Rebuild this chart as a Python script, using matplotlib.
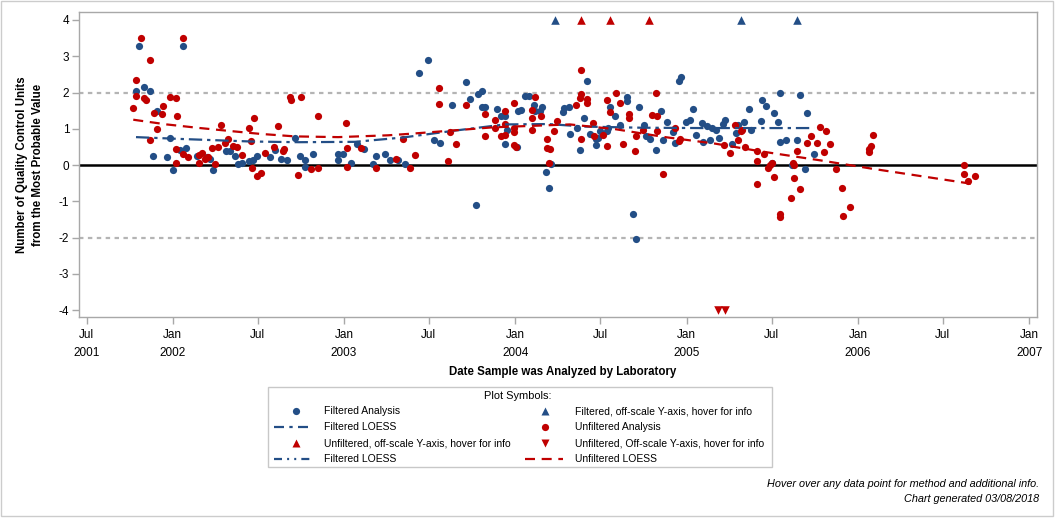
import numpy as np
import matplotlib
matplotlib.use("Agg")
import matplotlib.pyplot as plt
import matplotlib.dates as mdates
from matplotlib.patches import Rectangle
from matplotlib.lines import Line2D
from datetime import datetime

plt.rcParams['font.family'] = ['Liberation Sans', 'DejaVu Sans']

# ---------------- data (x in decimal years, y in QC units) ----------------
filt_x = [2001.787, 2001.804, 2001.833, 2001.868, 2001.886, 2001.909, 2001.968, 2001.985,
          2002.003, 2002.044, 2002.061, 2002.079, 2002.143, 2002.201, 2002.219, 2002.236,
          2002.312, 2002.336, 2002.365, 2002.382, 2002.406, 2002.447, 2002.470, 2002.493,
          2002.569, 2002.598, 2002.633, 2002.668, 2002.715, 2002.744, 2002.774, 2002.774,
          2002.820, 2002.966, 2002.966, 2002.995, 2003.042, 2003.077, 2003.118, 2003.171,
          2003.188, 2003.241, 2003.270, 2003.313, 2003.357, 2003.439, 2003.492, 2003.527,
          2003.562, 2003.632, 2003.714, 2003.737, 2003.772, 2003.784, 2003.807, 2003.807,
          2003.825, 2003.895, 2003.918, 2003.941, 2003.953, 2003.941, 2004.012, 2004.017,
          2004.035, 2004.058, 2004.082, 2004.111, 2004.117, 2004.146, 2004.158, 2004.181,
          2004.199, 2004.210, 2004.280, 2004.286, 2004.315, 2004.321, 2004.362, 2004.379,
          2004.403, 2004.420, 2004.438, 2004.473, 2004.473, 2004.485, 2004.496, 2004.537,
          2004.543, 2004.555, 2004.584, 2004.613, 2004.654, 2004.654, 2004.689, 2004.706,
          2004.724, 2004.753, 2004.765, 2004.788, 2004.823, 2004.847, 2004.864, 2004.882,
          2004.917, 2004.934, 2004.952, 2004.969, 2004.993, 2005.016, 2005.039, 2005.051,
          2005.086, 2005.092, 2005.121, 2005.133, 2005.150, 2005.168, 2005.191, 2005.209,
          2005.223, 2005.267, 2005.285, 2005.302, 2005.337, 2005.361, 2005.378, 2005.431,
          2005.437, 2005.460, 2005.495, 2005.512, 2005.530, 2005.547, 2005.547, 2005.582,
          2005.612, 2005.641, 2005.664, 2005.688, 2005.705, 2005.746]
filt_y = [2.03, 3.28, 2.14, 2.03, 0.24, 1.48, 0.21, 0.74,
          -0.15, 0.41, 3.28, 0.46, 0.24, 0.21, 0.18, -0.15,
          0.38, 0.38, 0.24, 0.02, 0.07, 0.10, 0.13, 0.24,
          0.21, 0.41, 0.18, 0.13, 0.74, 0.24, 0.13, -0.06,
          0.30, 0.30, 0.13, 0.30, 0.05, 0.57, 0.43, 0.02,
          0.24, 0.30, 0.13, 0.13, 0.02, 2.53, 2.89, 0.68,
          0.60, 1.65, 2.28, 1.81, -1.11, 1.95, 2.03, 1.59,
          1.59, 1.54, 1.34, 1.34, 0.98, 0.57, 0.49, 1.48,
          1.51, 1.90, 1.90, 1.65, 1.48, 1.48, 1.59, -0.20,
          -0.64, 0.02, 1.45, 1.57, 1.59, 0.85, 1.01, 0.41,
          1.29, 2.31, 0.85, 0.71, 0.54, 0.74, 0.93, 0.93,
          1.01, 1.59, 1.34, 1.10, 1.87, 1.76, -1.36, -2.05,
          1.59, 1.10, 0.79, 0.71, 0.41, 1.48, 0.68, 1.18,
          0.90, 0.60, 2.31, 2.42, 1.18, 1.23, 1.54, 0.82,
          1.15, 0.63, 1.07, 0.68, 1.01, 0.96, 0.74, 1.12,
          1.23, 0.57, 0.88, 1.10, 1.18, 1.54, 0.96, 1.21,
          1.79, 1.62, 0.07, 1.43, 1.18, 1.98, 0.63, 0.68,
          -0.01, 0.68, 1.92, -0.12, 1.43, 0.30]

unf_x = [2001.769, 2001.787, 2001.786, 2001.816, 2001.833, 2001.845, 2001.868, 2001.868,
         2001.892, 2001.909, 2001.938, 2001.944, 2001.985, 2002.020, 2002.026, 2002.020,
         2002.020, 2002.061, 2002.061, 2002.090, 2002.155, 2002.172, 2002.155, 2002.190,
         2002.207, 2002.229, 2002.248, 2002.265, 2002.283, 2002.306, 2002.324, 2002.353,
         2002.376, 2002.406, 2002.443, 2002.458, 2002.464, 2002.476, 2002.493, 2002.515,
         2002.540, 2002.593, 2002.616, 2002.651, 2002.645, 2002.686, 2002.692, 2002.733,
         2002.750, 2002.809, 2002.849, 2002.849, 2003.013, 2003.019, 2003.019, 2003.101,
         2003.188, 2003.305, 2003.346, 2003.387, 2003.416, 2003.556, 2003.556, 2003.609,
         2003.620, 2003.655, 2003.714, 2003.825, 2003.825, 2003.883, 2003.883, 2003.918,
         2003.941, 2003.941, 2003.941, 2003.994, 2003.994, 2003.994, 2003.994, 2004.006,
         2004.099, 2004.099, 2004.099, 2004.117, 2004.152, 2004.187, 2004.187, 2004.204,
         2004.199, 2004.228, 2004.245, 2004.356, 2004.379, 2004.385, 2004.385, 2004.385,
         2004.420, 2004.420, 2004.455, 2004.461, 2004.514, 2004.537, 2004.537, 2004.555,
         2004.590, 2004.613, 2004.631, 2004.666, 2004.666, 2004.701, 2004.706, 2004.742,
         2004.800, 2004.829, 2004.823, 2004.829, 2004.864, 2004.934, 2004.958, 2004.952,
         2005.220, 2005.255, 2005.279, 2005.314, 2005.320, 2005.302, 2005.343, 2005.413,
         2005.413, 2005.454, 2005.413, 2005.477, 2005.489, 2005.495, 2005.507, 2005.547,
         2005.547, 2005.606, 2005.629, 2005.623, 2005.629, 2005.641, 2005.664, 2005.705,
         2005.728, 2005.763, 2005.781, 2005.804, 2005.816, 2005.839, 2005.869, 2005.909,
         2005.915, 2005.956, 2006.067, 2006.067, 2006.079, 2006.085, 2006.622, 2006.622,
         2006.645, 2006.686]
unf_y = [1.57, 2.34, 1.90, 3.50, 1.84, 1.79, 2.89, 0.68,
         1.43, 0.99, 1.40, 1.62, 1.87, 1.84, 1.34, 0.43,
         0.05, 3.50, 0.30, 0.21, 0.27, 0.32, 0.05, 0.16,
         0.21, 0.46, 0.02, 0.49, 1.10, 0.60, 0.71, 0.52,
         0.49, 0.27, 1.01, 0.65, -0.09, 1.29, -0.31, -0.23,
         0.32, 0.49, 1.08, 0.43, 0.38, 1.87, 1.79, -0.28,
         1.87, -0.12, -0.09, 1.34, 1.15, 0.46, -0.06, 0.46,
         -0.09, 0.18, 0.71, -0.09, 0.27, 2.12, 1.68, 0.10,
         0.90, 0.57, 1.65, 1.40, 0.79, 1.23, 1.01, 0.79,
         0.82, 1.48, 1.12, 1.70, 1.01, 0.90, 0.54, 0.49,
         1.51, 1.29, 0.98, 1.87, 1.34, 0.71, 0.46, 0.43,
         0.07, 0.93, 1.21, 1.65, 1.84, 1.95, 2.61, 0.71,
         1.81, 1.70, 1.15, 0.79, 0.82, 1.79, 0.52, 1.45,
         2.00, 1.70, 0.57, 1.40, 1.29, 0.38, 0.79, 0.96,
         1.37, 1.34, 2.00, 0.93, -0.26, 1.01, 0.71, 0.65,
         0.54, 0.32, 1.10, 0.93, 0.98, 0.68, 0.49, 0.38,
         0.10, 0.30, -0.53, -0.09, -0.01, 0.05, -0.34, -1.36,
         -1.44, -0.92, -0.37, 0.05, -0.01, 0.38, -0.67, 0.60,
         0.79, 0.60, 1.04, 0.35, 0.93, 0.57, -0.12, -0.62,
         -1.41, -1.17, 0.35, 0.43, 0.52, 0.82, -0.01, -0.26,
         -0.45, -0.31]

# off-scale symbols (drawn at the axis cap)
filt_up_x = [2004.230, 2005.316, 2005.643]
unf_up_x = [2004.382, 2004.553, 2004.781]
unf_down_x = [2005.185, 2005.225]
offscale_top = 4.0
offscale_bottom = -4.0

# LOESS curves
filt_loess_x = [2001.785, 2002.042, 2002.451, 2002.733, 2003.064, 2003.346, 2003.648,
                2003.940, 2004.193, 2004.407, 2004.728, 2005.078, 2005.744]
filt_loess_y = [0.77, 0.72, 0.65, 0.63, 0.64, 0.76, 0.95, 1.12, 1.13, 1.06, 1.03, 1.02, 1.02]
unf_loess_x = [2001.769, 2001.964, 2002.159, 2002.353, 2002.509, 2002.713, 2002.966, 2003.258,
               2003.410, 2003.871, 2004.319, 2004.582, 2004.874, 2005.166, 2005.429, 2005.779,
               2006.081, 2006.626, 2006.673]
unf_loess_y = [1.25, 1.12, 1.02, 0.93, 0.86, 0.79, 0.77, 0.82, 0.87, 1.04, 1.12, 0.99, 0.77,
               0.59, 0.38, 0.13, -0.10, -0.49, -0.52]

tick_dates = ["2001-07-01", "2002-01-01", "2002-07-01", "2003-01-01", "2003-07-01",
              "2004-01-01", "2004-07-01", "2005-01-01", "2005-07-01", "2006-01-01",
              "2006-07-01", "2007-01-01"]
tick_labels = ["Jul\n2001", "Jan\n2002", "Jul", "Jan\n2003", "Jul", "Jan\n2004", "Jul",
               "Jan\n2005", "Jul", "Jan\n2006", "Jul", "Jan\n2007"]
y_ticks = [4, 3, 2, 1, 0, -1, -2, -3, -4]


def dy2num(v):
    v = np.atleast_1d(np.asarray(v, dtype=float))
    out = []
    for val in v:
        y = int(np.floor(val))
        s = mdates.date2num(datetime(y, 1, 1))
        e = mdates.date2num(datetime(y + 1, 1, 1))
        out.append(s + (val - y) * (e - s))
    return np.array(out)


BLUE = "#234e86"
RED = "#c00000"
GRAY = "#a8a8a8"

W, H = 1056, 518
fig = plt.figure(figsize=(W / 100, H / 100), dpi=100)


def fx(px):
    return px / W


def fy(py):
    return 1 - py / H


ax = fig.add_axes([fx(79), fy(317), fx(1037) - fx(79), fy(12) - fy(317)])

ax.axhline(2, color="#b4b4b4", lw=1.6, dashes=(2, 2), zorder=1)
ax.axhline(-2, color="#b4b4b4", lw=1.6, dashes=(2, 2), zorder=1)
ax.axhline(0, color="black", lw=1.8, zorder=1)

ax.scatter(dy2num(filt_x), filt_y, s=27, color=BLUE, linewidths=0, zorder=3)
ax.scatter(dy2num(unf_x), unf_y, s=27, color=RED, linewidths=0, zorder=3)
ax.scatter(dy2num(filt_up_x), [offscale_top] * len(filt_up_x), s=38, marker="^",
           color=BLUE, linewidths=0, zorder=3)
ax.scatter(dy2num(unf_up_x), [offscale_top] * len(unf_up_x), s=38, marker="^",
           color=RED, linewidths=0, zorder=3)
ax.scatter(dy2num(unf_down_x), [offscale_bottom] * len(unf_down_x), s=38, marker="v",
           color=RED, linewidths=0, zorder=3)

ax.plot(dy2num(filt_loess_x), filt_loess_y, color=BLUE, lw=1.6,
        dashes=(6, 2.2, 1.5, 2.2), zorder=4)
ax.plot(dy2num(unf_loess_x), unf_loess_y, color=RED, lw=1.6, dashes=(4.5, 3), zorder=4)

ax.set_ylim(-4.19, 4.22)
ax.set_xlim(dy2num(2001.452)[0], dy2num(2007.046)[0])
ax.set_yticks(y_ticks)
ax.set_yticklabels([str(t) for t in y_ticks])
ax.set_xticks(mdates.date2num([datetime.fromisoformat(d) for d in tick_dates]))
ax.set_xticklabels(tick_labels, linespacing=1.65)

for sp in ax.spines.values():
    sp.set_color(GRAY)
    sp.set_linewidth(1.0)
ax.tick_params(axis="both", colors=GRAY, labelcolor="black", length=5, width=1,
               labelsize=8.5, direction="out")
ax.tick_params(axis="x", pad=4)
ax.tick_params(axis="y", pad=2)

fig.text(fx(30), fy(165), "Number of Quality Control Units\nfrom the Most Probable Value",
         rotation=90, ha="center", va="center", fontsize=8.3, fontweight="bold",
         linespacing=1.45)
fig.text(fx(563), fy(372), "Date Sample was Analyzed by Laboratory", ha="center",
         va="center", fontsize=8.3, fontweight="bold")

# ---------------- legend box ----------------
fig.patches.append(Rectangle((fx(268), fy(467)), fx(772) - fx(268), fy(387) - fy(467),
                             transform=fig.transFigure, fill=False, edgecolor="#c8c8c8",
                             lw=1.0))
fig.text(fx(518), fy(396), "Plot Symbols:", ha="center", va="center", fontsize=7.9)

rows = [411, 427, 443, 459]
lx_m, lx_t = 296, 324
rx_m, rx_t = 545, 575
LS = 7.5


def leg_marker(x, y, marker, color, ms):
    fig.add_artist(Line2D([fx(x)], [fy(y)], marker=marker, color=color, ms=ms,
                          mec="none", ls="none", transform=fig.transFigure))


def leg_line(x0, x1, y, color, dashes):
    fig.add_artist(Line2D([fx(x0), fx(x1)], [fy(y), fy(y)], color=color, lw=1.6,
                          dashes=dashes, transform=fig.transFigure))


leg_marker(lx_m, rows[0], "o", BLUE, 5.2)
fig.text(fx(lx_t), fy(rows[0]), "Filtered Analysis", va="center", fontsize=LS)
leg_marker(rx_m, rows[0], "^", BLUE, 6)
fig.text(fx(rx_t), fy(rows[0]), "Filtered, off-scale Y-axis, hover for info", va="center",
         fontsize=LS)

leg_line(274, 311, rows[1], BLUE, (4.5, 2.4, 1.5, 2.4))
fig.text(fx(lx_t), fy(rows[1]), "Filtered LOESS", va="center", fontsize=LS)
leg_marker(rx_m, rows[1], "o", RED, 5.2)
fig.text(fx(rx_t), fy(rows[1]), "Unfiltered Analysis", va="center", fontsize=LS)

leg_marker(lx_m, rows[2], "^", RED, 6)
fig.text(fx(lx_t), fy(rows[2]), "Unfiltered, off-scale Y-axis, hover for info", va="center",
         fontsize=LS)
leg_marker(rx_m, rows[2], "v", RED, 6)
fig.text(fx(rx_t), fy(rows[2]), "Unfiltered, Off-scale Y-axis, hover for info", va="center",
         fontsize=LS)

leg_line(274, 311, rows[3], BLUE, (3.6, 2.3, 0.9, 2.3, 0.9, 2.3))
fig.text(fx(lx_t), fy(rows[3]), "Filtered LOESS", va="center", fontsize=LS)
leg_line(525, 563, rows[3], RED, (4.5, 3))
fig.text(fx(rx_t), fy(rows[3]), "Unfiltered LOESS", va="center", fontsize=LS)

# ---------------- footnotes ----------------
fig.text(fx(1039), fy(484), "Hover over any data point for method and additional info.",
         ha="right", va="center", fontsize=7.8, style="italic")
fig.text(fx(1039), fy(499), "Chart generated 03/08/2018", ha="right", va="center",
         fontsize=7.8, style="italic")

# outer border
fig.patches.append(Rectangle((fx(1), fy(516)), fx(1053) - fx(1), fy(1) - fy(516),
                             transform=fig.transFigure, fill=False, edgecolor="#cccccc",
                             lw=1.0))

fig.savefig("out.png", dpi=100)
